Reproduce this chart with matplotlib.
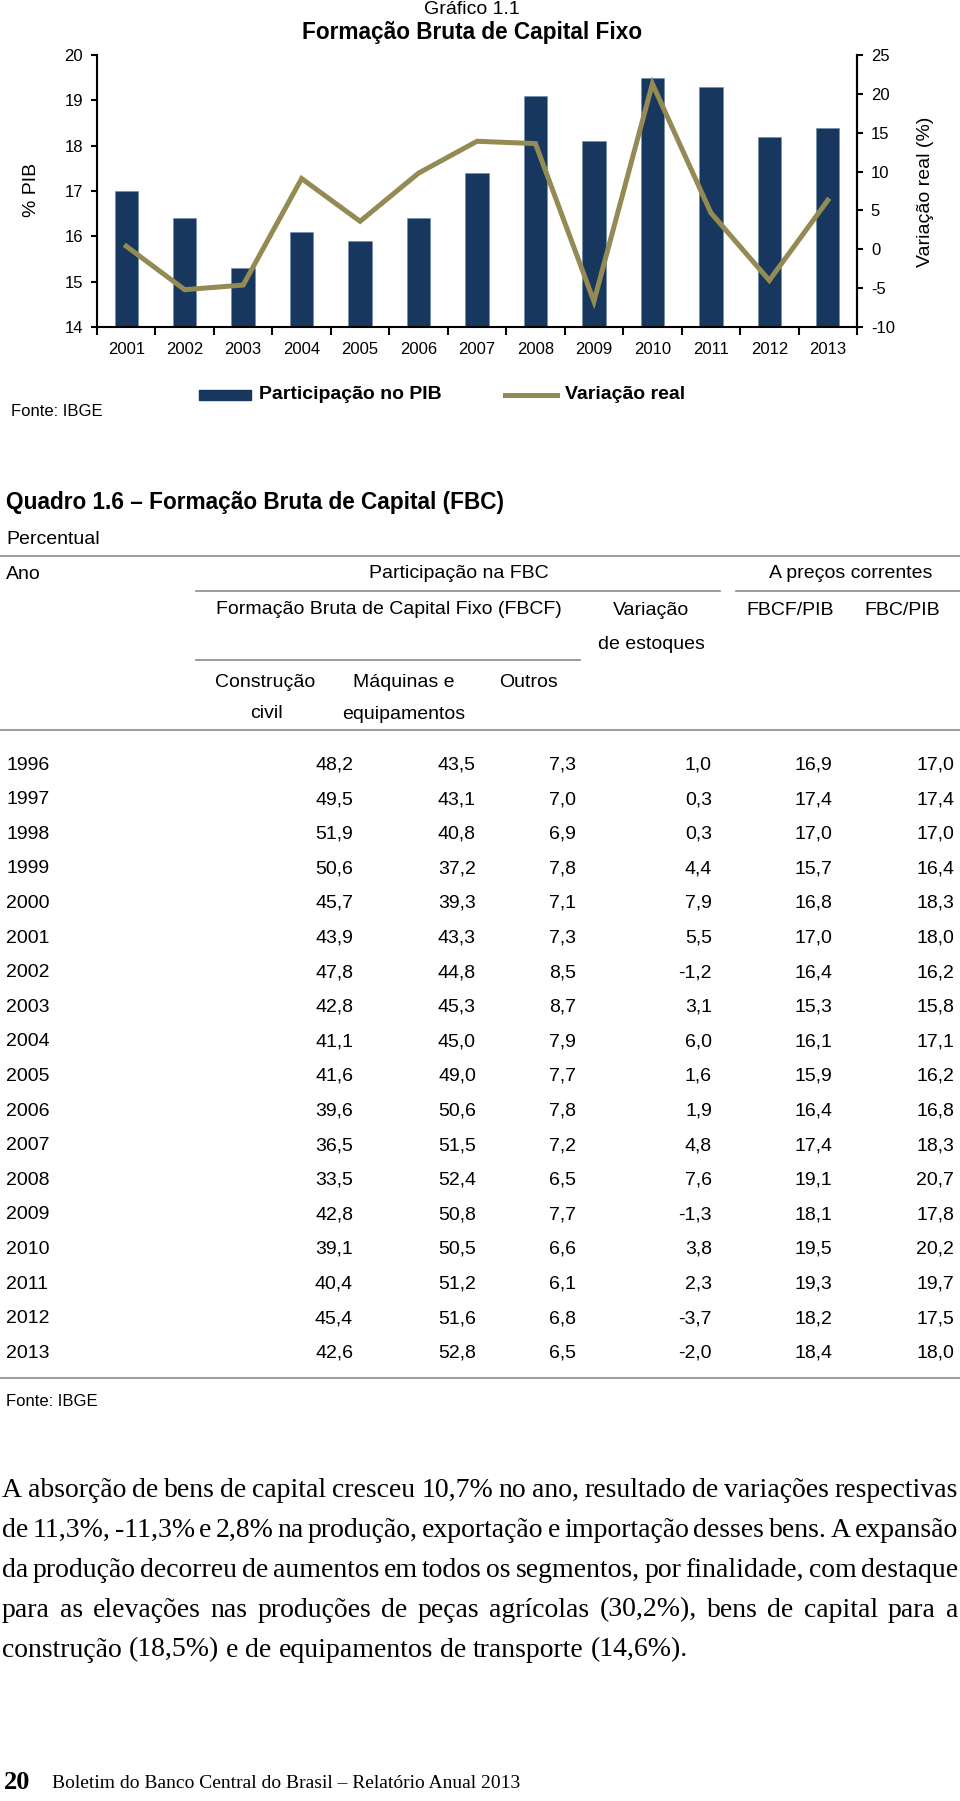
import matplotlib
matplotlib.use("Agg")
import matplotlib.pyplot as plt
from matplotlib.patches import Rectangle
from matplotlib.lines import Line2D

plt.rcParams["font.family"] = ["Liberation Sans", "DejaVu Sans"]
plt.rcParams["axes.unicode_minus"] = False
SERIF = ["Liberation Serif", "DejaVu Serif"]

W, H = 960, 1801

# --- dados do grafico 1.1 ---
ANOS_GRAF = ["2001", "2002", "2003", "2004", "2005", "2006", "2007",
             "2008", "2009", "2010", "2011", "2012", "2013"]
VAR_REAL = [0.4, -5.2, -4.6, 9.1, 3.6, 9.8, 13.9, 13.6, -6.7, 21.3, 4.7, -4.0, 6.3]

# --- dados do quadro 1.6 ---
TAB_ANOS = [str(a) for a in range(1996, 2014)]
CONSTR = [48.2, 49.5, 51.9, 50.6, 45.7, 43.9, 47.8, 42.8, 41.1,
          41.6, 39.6, 36.5, 33.5, 42.8, 39.1, 40.4, 45.4, 42.6]
MAQUINAS = [43.5, 43.1, 40.8, 37.2, 39.3, 43.3, 44.8, 45.3, 45.0,
            49.0, 50.6, 51.5, 52.4, 50.8, 50.5, 51.2, 51.6, 52.8]
OUTROS = [7.3, 7.0, 6.9, 7.8, 7.1, 7.3, 8.5, 8.7, 7.9,
          7.7, 7.8, 7.2, 6.5, 7.7, 6.6, 6.1, 6.8, 6.5]
VAR_EST = [1.0, 0.3, 0.3, 4.4, 7.9, 5.5, -1.2, 3.1, 6.0,
           1.6, 1.9, 4.8, 7.6, -1.3, 3.8, 2.3, -3.7, -2.0]
FBCF_PIB = [16.9, 17.4, 17.0, 15.7, 16.8, 17.0, 16.4, 15.3, 16.1,
            15.9, 16.4, 17.4, 19.1, 18.1, 19.5, 19.3, 18.2, 18.4]
FBC_PIB = [17.0, 17.4, 17.0, 16.4, 18.3, 18.0, 16.2, 15.8, 17.1,
           16.2, 16.8, 18.3, 20.7, 17.8, 20.2, 19.7, 17.5, 18.0]

# participacao no PIB do grafico = FBCF/PIB de 2001 em diante
PART_PIB = FBCF_PIB[5:]

PARAGRAFO = [
    "A absorção de bens de capital cresceu 10,7% no ano, resultado de variações respectivas",
    "de 11,3%, -11,3% e 2,8% na produção, exportação e importação desses bens. A expansão",
    "da produção decorreu de aumentos em todos os segmentos, por finalidade, com destaque",
    "para as elevações nas produções de peças agrícolas (30,2%), bens de capital para a",
    "construção (18,5%) e de equipamentos de transporte (14,6%).",
]

BAR_COLOR = "#17375E"
LINE_COLOR = "#948A54"
GRID_GREY = "#8C8C8C"

fig = plt.figure(figsize=(W / 100, H / 100), dpi=100)

# pagina inteira em coordenadas de pixel
page = fig.add_axes([0, 0, 1, 1], zorder=0)
page.set_xlim(0, W)
page.set_ylim(H, 0)
page.axis("off")


def txt(x, y, s, size=14, ha="left", va="center", **kw):
    return page.text(x, y, s, fontsize=size, ha=ha, va=va, **kw)


def hline(x0, x1, y, lw=1.2, color=GRID_GREY):
    page.add_line(Line2D([x0, x1], [y, y], lw=lw, color=color))


# ---------------- grafico ----------------
L, R, T, B = 97, 857, 55, 327
ax = fig.add_axes([L / W, 1 - B / H, (R - L) / W, (B - T) / H], zorder=2)
x = range(len(ANOS_GRAF))
ax.bar(x, PART_PIB, width=0.4, color=BAR_COLOR, edgecolor="#6F8AAE", linewidth=0.4)
ax.set_ylim(14, 20)
ax.set_xlim(-0.5, len(ANOS_GRAF) - 0.5)
ax.set_yticks(range(14, 21))
ax.set_xticks(list(x))
ax.set_xticklabels(ANOS_GRAF)
ax.set_xticks([i - 0.5 for i in range(len(ANOS_GRAF) + 1)], minor=True)
ax.tick_params(axis="x", which="major", length=0, pad=11, labelsize=12)
ax.tick_params(axis="x", which="minor", length=6, width=1.5, direction="out")
ax.tick_params(axis="y", length=4, width=1.5, direction="out", labelsize=12, pad=6)
ax.spines["top"].set_visible(False)
for s in ("left", "bottom", "right"):
    ax.spines[s].set_linewidth(1.5)

ax2 = ax.twinx()
ax2.plot(x, VAR_REAL, color=LINE_COLOR, lw=3.6, solid_joinstyle="miter")
ax2.set_ylim(-10, 25)
ax2.set_yticks(range(-10, 26, 5))
ax2.tick_params(axis="y", length=4, width=1.5, direction="out", labelsize=12, pad=6)
ax2.spines["top"].set_visible(False)
ax2.spines["right"].set_linewidth(1.5)
ax2.spines["left"].set_visible(False)
ax2.spines["bottom"].set_visible(False)

txt(472, 10, "Gráfico 1.1", size=14, ha="center")
txt(472, 33, "Formação Bruta de Capital Fixo", size=16.3, ha="center", weight="bold")
txt(31, 190, "% PIB", size=14, ha="center", rotation=90)
txt(925, 192, "Variação real (%)", size=14, ha="center", rotation=90)

# legenda
page.add_patch(Rectangle((199, 390), 52, 10, color=BAR_COLOR))
txt(259, 394, "Participação no PIB", size=14, weight="bold")
page.add_line(Line2D([505, 557], [395, 395], lw=3.6, color=LINE_COLOR))
txt(565, 394, "Variação real", size=14, weight="bold")
txt(11, 411, "Fonte: IBGE", size=12)

# ---------------- quadro ----------------
txt(6, 502, "Quadro 1.6 – Formação Bruta de Capital (FBC)", size=16.3, weight="bold")
txt(6, 539, "Percentual", size=14)
hline(0, W, 556)
txt(6, 574, "Ano", size=14)
txt(459, 573, "Participação na FBC", size=14, ha="center")
txt(851, 573, "A preços correntes", size=14, ha="center")
hline(196, 720, 591)
hline(736, W, 591)
txt(389, 609, "Formação Bruta de Capital Fixo (FBCF)", size=14, ha="center")
txt(651, 610, "Variação", size=14, ha="center")
txt(790, 610, "FBCF/PIB", size=14, ha="center")
txt(902, 610, "FBC/PIB", size=14, ha="center")
txt(651, 644, "de estoques", size=14, ha="center")
hline(196, 580, 660)
txt(265, 682, "Construção", size=14, ha="center")
txt(404, 682, "Máquinas e", size=14, ha="center")
txt(528, 682, "Outros", size=14, ha="center")
txt(266, 713, "civil", size=14, ha="center")
txt(404, 714, "equipamentos", size=14, ha="center")
hline(0, W, 730)


def fmt(v):
    return f"{v:.1f}".replace(".", ",")


colunas = [CONSTR, MAQUINAS, OUTROS, VAR_EST, FBCF_PIB, FBC_PIB]
col_right = [353, 476, 576, 712, 832, 954]
y0, dy = 765, 34.6
for i, ano in enumerate(TAB_ANOS):
    y = y0 + i * dy
    txt(6, y, ano, size=14)
    for col, xr in zip(colunas, col_right):
        txt(xr, y, fmt(col[i]), size=14, ha="right")
hline(0, W, y0 + len(TAB_ANOS) * dy - 10)
txt(6, 1401, "Fonte: IBGE", size=12)

# ---------------- texto corrido (justificado) ----------------
fig.canvas.draw()
renderer = fig.canvas.get_renderer()


def linha(words, y, size, x0, x1, justify=True):
    while True:
        ts = [page.text(0, y, w, fontsize=size, family=SERIF, va="center")
              for w in words]
        ws = [t.get_window_extent(renderer).width for t in ts]
        if not justify:
            gap = 0.25 * size * 100 / 72
        else:
            gap = (x1 - x0 - sum(ws)) / (len(words) - 1)
        if gap >= 2.0 or size < 12:
            break
        for t in ts:
            t.remove()
        size -= 0.25
    xc = x0
    for t, w in zip(ts, ws):
        t.set_x(xc)
        xc += w + gap


py0, pdy = 1490, 40
for k, frase in enumerate(PARAGRAFO):
    last = k == len(PARAGRAFO) - 1
    linha(frase.split(), py0 + k * pdy, 20, 2, 958, justify=not last)

txt(4, 1782, "20", size=19, weight="bold", family=SERIF)
txt(52, 1783, "Boletim do Banco Central do Brasil – Relatório Anual 2013",
    size=14, family=SERIF)

fig.savefig("out.png", dpi=100)
